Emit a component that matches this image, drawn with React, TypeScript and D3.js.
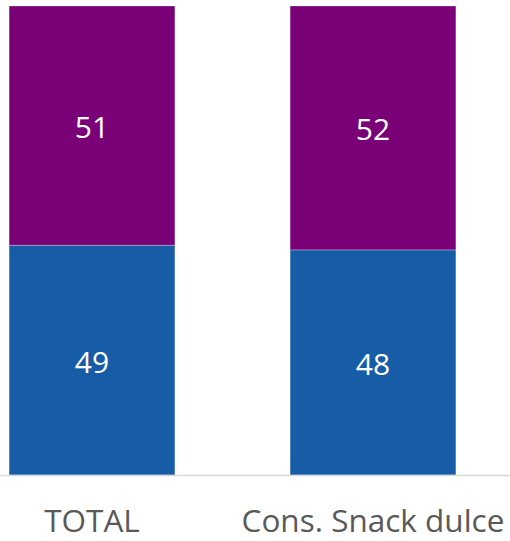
import React from "react";
import * as d3 from "d3";

const categories = ["TOTAL", "Cons. Snack dulce"];
const seriesNames = ["blue", "purple"];
const blueValues = [49, 48];
const purpleValues = [51, 52];
const colors = ["#165CA7", "#7A0078"];

export default function App() {
  const W = 510;
  const H = 541;
  const top = 6;
  const bottom = 475;

  const rows = categories.map((c, i) => ({ cat: c, blue: blueValues[i], purple: purpleValues[i] }));
  const stack = d3.stack<any>().keys(seriesNames)(rows);

  const x = d3
    .scaleBand<string>()
    .domain(categories)
    .range([-48.5, 513.5])
    .paddingInner(0.41)
    .paddingOuter(0.205);
  const y = d3.scaleLinear().domain([0, 100]).range([bottom, top]);

  return (
    <svg
      width={W}
      height={H}
      style={{ position: "absolute", left: 0, top: 0, display: "block" }}
    >
      {stack.map((s, si) =>
        s.map((d, i) => {
          const x0 = x(categories[i])!;
          const y0 = y(d[1]);
          const y1 = y(d[0]);
          const v = d[1] - d[0];
          return (
            <g key={`${si}-${i}`}>
              <rect
                x={x0}
                y={y0}
                width={x.bandwidth()}
                height={y1 - y0}
                fill={colors[si]}
                stroke="rgba(255,255,255,0.35)"
                strokeWidth={0.8}
              />
              <text
                x={x0 + x.bandwidth() / 2}
                y={(y0 + y1) / 2 + 1}
                textAnchor="middle"
                dominantBaseline="central"
                fill="#ffffff"
                fontFamily="'Open Sans', sans-serif"
                fontSize={30}
              >
                {v}
              </text>
            </g>
          );
        })
      )}
      <line x1={0} x2={W} y1={bottom + 0.5} y2={bottom + 0.5} stroke="#d9d9d9" strokeWidth={1.5} />
      {categories.map((c) => (
        <text
          key={c}
          x={x(c)! + x.bandwidth() / 2}
          y={532}
          textAnchor="middle"
          fill="#595959"
          fontFamily="'Open Sans', sans-serif"
          fontSize={31.5}
        >
          {c}
        </text>
      ))}
    </svg>
  );
}
